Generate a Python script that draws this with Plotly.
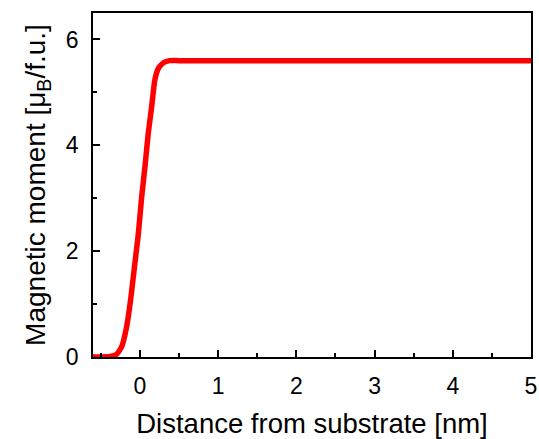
import plotly.graph_objects as go

distance_nm = [-0.6, -0.5, -0.38, -0.3, -0.234, -0.17, -0.12, -0.07, -0.02, 0.022,
               0.064, 0.106, 0.15, 0.19, 0.234, 0.3, 0.38, 0.5,
               1.0, 2.0, 3.0, 4.0, 5.0]
moment_muB = [0.0, 0.0, 0.01, 0.05, 0.19, 0.57, 1.07, 1.70, 2.33, 3.02,
              3.59, 4.22, 4.73, 5.23, 5.45, 5.56, 5.6, 5.6,
              5.6, 5.6, 5.6, 5.6, 5.6]

x_ticks = [0, 1, 2, 3, 4, 5]
y_ticks = [0, 2, 4, 6]

fig = go.Figure()
fig.add_trace(go.Scatter(
    x=distance_nm, y=moment_muB, mode="lines",
    line=dict(color="#ff0000", width=5.5, shape="spline", smoothing=0.5),
    showlegend=False,
))

family = "Liberation Sans, Arial, sans-serif"
tick_font = dict(family=family, size=23, color="black")
xtitle_font = dict(family=family, size=27.5, color="black")
ytitle_font = dict(family=family, size=28, color="black")

fig.update_layout(
    width=539, height=439,
    margin=dict(l=93, r=8, t=13, b=82),
    paper_bgcolor="white", plot_bgcolor="white",
    font=tick_font,
)
fig.update_xaxes(
    range=[-0.6, 5], tickvals=x_ticks, ticktext=[str(v) for v in x_ticks],
    tickfont=tick_font,
    showline=True, linecolor="black", linewidth=1.5, mirror=True,
    ticks="inside", ticklen=7, tickwidth=1.5, tickcolor="black",
    minor=dict(dtick=0.5, tick0=0, ticks="inside", ticklen=4, tickwidth=1.5, tickcolor="black", showgrid=False),
    showgrid=False, zeroline=False, ticklabelstandoff=8, automargin=False,
    title=dict(text="Distance from substrate [nm]", standoff=22, font=xtitle_font),
)
fig.update_yaxes(
    range=[0, 6.5], tickvals=y_ticks, ticktext=[str(v) for v in y_ticks],
    tickfont=tick_font,
    showline=True, linecolor="black", linewidth=1.5, mirror=True,
    ticks="inside", ticklen=7, tickwidth=1.5, tickcolor="black",
    minor=dict(dtick=1, tick0=0, ticks="inside", ticklen=4, tickwidth=1.5, tickcolor="black", showgrid=False),
    showgrid=False, zeroline=False, ticklabelstandoff=8, automargin=False,
    title=dict(text="Magnetic moment [μ<sub>B</sub>/f.u.]", standoff=12, font=ytitle_font),
)

fig.write_html(
    "out.html",
    config={"displayModeBar": False},
    post_script="document.body.style.margin='0';document.body.style.overflow='hidden';",
)
